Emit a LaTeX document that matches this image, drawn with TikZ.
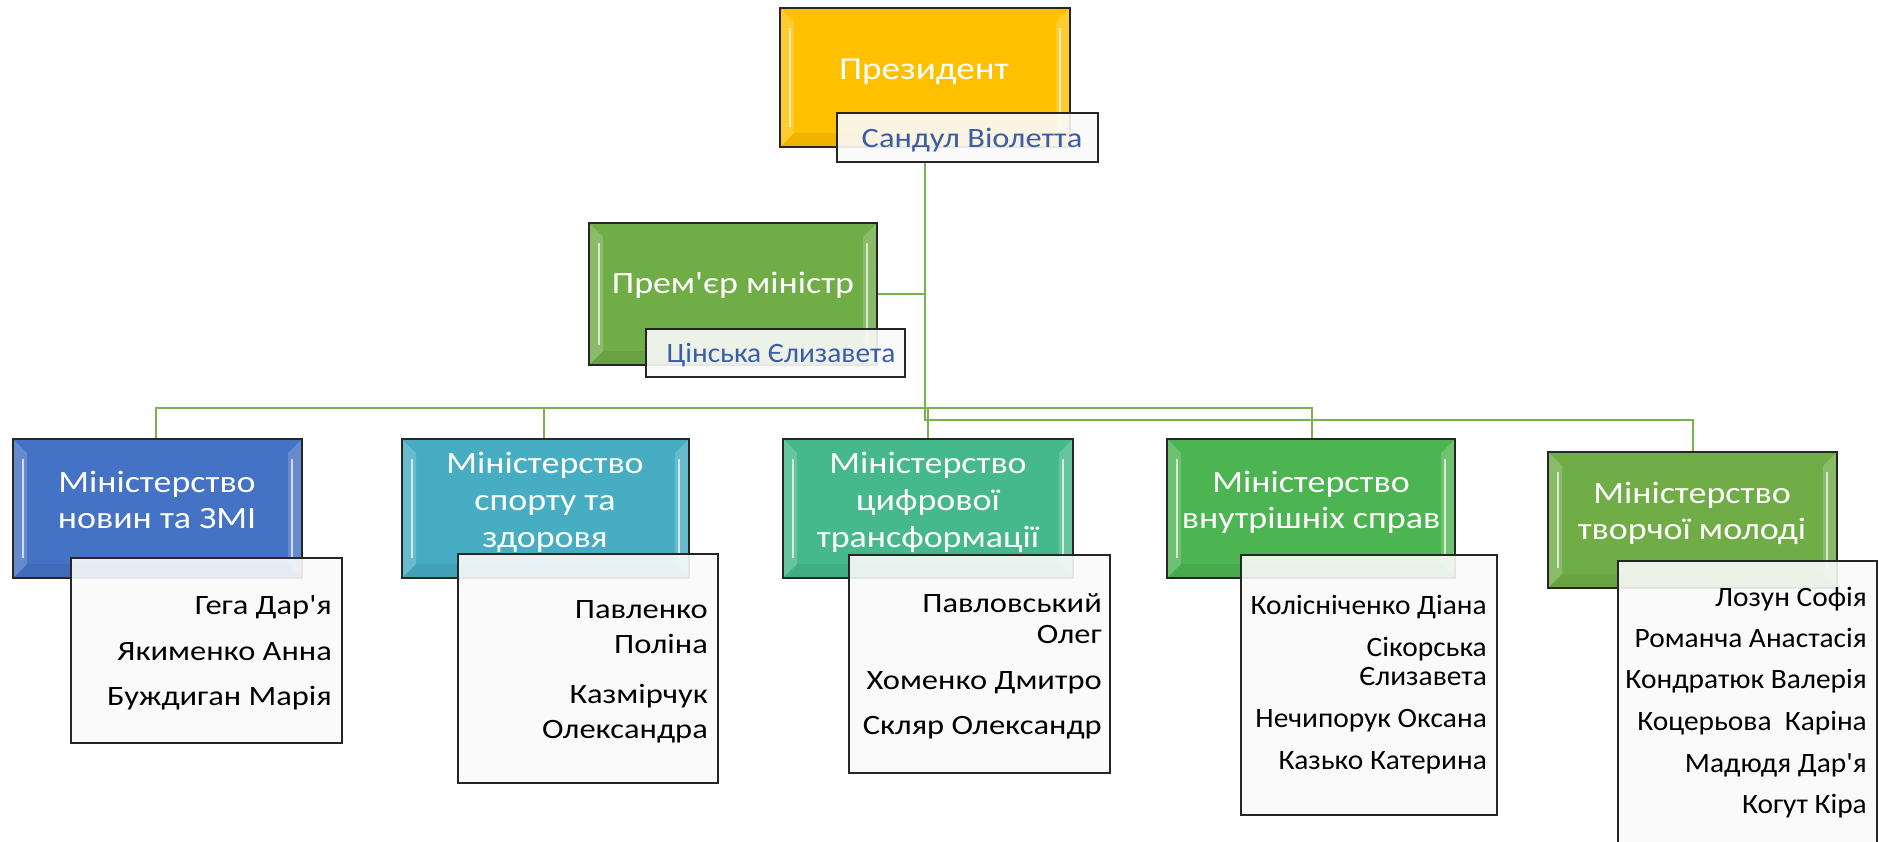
\documentclass[tikz,border=0pt]{standalone}
\usepackage{fontspec}
\setmainfont{Carlito}[Ligatures=TeXOff, FakeStretch=1.16]
\newfontfamily\narrowf{Carlito}[Ligatures=TeXOff, FakeStretch=1.05]
\definecolor{cgold}{HTML}{FFC000}
\definecolor{cgreen}{HTML}{70AD47}
\definecolor{cblue}{HTML}{4472C4}
\definecolor{cteal}{HTML}{46ADC3}
\definecolor{csea}{HTML}{45B98B}
\definecolor{cgreen2}{HTML}{4DB452}
\definecolor{cline}{HTML}{76B24E}
\definecolor{cname}{HTML}{3A5DA6}
\begin{document}
\begin{tikzpicture}[x=1pt,y=-1pt,
  cbox/.style={draw=black!85, line width=1.6pt, rectangle, inner sep=0pt,
    path picture={
      \fill[white,opacity=0.18] (path picture bounding box.north west) -- ++(14pt,-14pt) |- ([shift={(14pt,14pt)}]path picture bounding box.south west) -- (path picture bounding box.south west) -- cycle;
      \fill[white,opacity=0.18] (path picture bounding box.north east) -- ++(-14pt,-14pt) |- ([shift={(-14pt,14pt)}]path picture bounding box.south east) -- (path picture bounding box.south east) -- cycle;
      \fill[black,opacity=0.06] (path picture bounding box.south west) -- ++(14pt,14pt) -- ([shift={(-14pt,14pt)}]path picture bounding box.south east) -- (path picture bounding box.south east) -- cycle;
      \draw[white,opacity=0.7,line width=2.5pt] ([shift={(10pt,-20pt)}]path picture bounding box.north west) -- ([shift={(10pt,20pt)}]path picture bounding box.south west);
      \draw[white,opacity=0.7,line width=2.5pt] ([shift={(-10pt,-20pt)}]path picture bounding box.north east) -- ([shift={(-10pt,20pt)}]path picture bounding box.south east);
    }},
  nbox/.style={draw=black!85, line width=1.6pt, rectangle, inner sep=0pt, fill=black!2, fill opacity=0.9},
  ttl/.style={text=white, inner sep=0pt, font=\fontsize{31}{37}\selectfont},
  bigttl/.style={text=white, inner sep=0pt, font=\fontsize{32}{38}\selectfont},
  head/.style={text=cname, inner sep=0pt, font=\fontsize{28}{33}\selectfont},
  mem/.style={text=black, inner sep=0pt, anchor=base east, font=\fontsize{28}{33}\selectfont},
  memn/.style={text=black, inner sep=0pt, anchor=base east, font=\narrowf\fontsize{28}{33}\selectfont},
  conn/.style={draw=cline, line width=2.4pt}
]
\useasboundingbox (0,0) rectangle (1879,841);

% boxes
\node[cbox, fill=cgold, minimum width=290pt, minimum height=139pt] (pres) at (925,77.5) {};
\node[cbox, fill=cgreen, minimum width=288pt, minimum height=142pt] (pm) at (733,294) {};
\node[cbox, fill=cblue, minimum width=289pt, minimum height=139pt] (b1) at (157.5,508.5) {};
\node[cbox, fill=cteal, minimum width=287pt, minimum height=139pt] (b2) at (545.5,508.5) {};
\node[cbox, fill=csea, minimum width=290pt, minimum height=139pt] (b3) at (928,508.5) {};
\node[cbox, fill=cgreen2, minimum width=288pt, minimum height=139pt] (b4) at (1311,508.5) {};
\node[cbox, fill=cgreen, minimum width=289pt, minimum height=136pt] (b5) at (1692.5,520) {};

% connectors
\coordinate (j1) at (925,420);
\coordinate (j5) at (1693,420);
\coordinate (u1) at (156,408);
\coordinate (u2) at (544,408);
\coordinate (u3) at (928,408);
\coordinate (u4) at (1312,408);
\draw[conn] (pm.east) -- (pm.east -| j1);
\draw[conn] (u1 |- b1.north) -- (u1) -- (u4) -- (u4 |- b4.north);
\draw[conn] (u2) -- (u2 |- b2.north);
\draw[conn] (u3) -- (u3 |- b3.north);

% titles
\node[bigttl, anchor=base] (tpres) at (924,79) {Президент};
\node[ttl, anchor=base] (tpm) at (733,293) {Прем'єр міністр};
\node[ttl, anchor=base] (t1a) at (157,492) {Міністерство};
\node[ttl, anchor=base] (t1b) at (157,528) {новин та ЗМІ};
\node[ttl, anchor=base] (t2a) at (545,473) {Міністерство};
\node[ttl, anchor=base] (t2b) at (545,510) {спорту та};
\node[ttl, anchor=base] (t2c) at (545,547) {здоровя};
\node[ttl, anchor=base] (t3a) at (928,473) {Міністерство};
\node[ttl, anchor=base] (t3b) at (928,510) {цифрової};
\node[ttl, anchor=base] (t3c) at (928,547) {трансформації};
\node[ttl, anchor=base] (t4a) at (1311,492) {Міністерство};
\node[ttl, anchor=base] (t4b) at (1311,528) {внутрішніх справ};
\node[ttl, anchor=base] (t5a) at (1692,503) {Міністерство};
\node[ttl, anchor=base] (t5b) at (1692,539) {творчої молоді};

% name boxes
\node[nbox, minimum width=261pt, minimum height=49pt] (pname) at (967.5,137.5) {};
\node[nbox, minimum width=259pt, minimum height=48pt] (pmname) at (775.5,353) {};
\node[nbox, minimum width=271pt, minimum height=185pt] (n1) at (206.5,650.5) {};
\node[nbox, minimum width=260pt, minimum height=229pt] (n2) at (588,668.5) {};
\node[nbox, minimum width=261pt, minimum height=218pt] (n3) at (979.5,664) {};
\node[nbox, minimum width=256pt, minimum height=260pt] (n4) at (1369,685) {};
\node[nbox, minimum width=259pt, minimum height=320pt] (n5) at (1747.5,721) {};

% trunk
\draw[conn] (pname.south -| j1) -- (j1) -- (j5) -- (j5 |- b5.north);

\node[head, anchor=base] (hpres) at (972,147) {Сандул Віолетта};
\node[head, anchor=base, font=\narrowf\fontsize{28}{33}\selectfont] (hpm) at (781,362) {Цінська Єлизавета};

\node[mem] (m1a) at (332,614) {Гега Дар'я};
\node[mem] (m1b) at (332,660) {Якименко Анна};
\node[mem] (m1c) at (332,705) {Буждиган Марія};

\node[mem] (m2a) at (708,618) {Павленко};
\node[mem] (m2b) at (708,653) {Поліна};
\node[mem] (m2c) at (708,703) {Казмірчук};
\node[mem] (m2d) at (708,738) {Олександра};

\node[mem] (m3a) at (1102,612) {Павловський};
\node[mem] (m3b) at (1102,643) {Олег};
\node[mem] (m3c) at (1102,689) {Хоменко Дмитро};
\node[mem] (m3d) at (1102,734) {Скляр Олександр};

\node[memn] (m4a) at (1487,614) {Колісніченко Діана};
\node[memn] (m4b) at (1487,656) {Сікорська};
\node[memn] (m4c) at (1487,685) {Єлизавета};
\node[memn] (m4d) at (1487,727) {Нечипорук Оксана};
\node[memn] (m4e) at (1487,769) {Казько Катерина};

\node[memn] (m5a) at (1867,606) {Лозун Софія};
\node[memn] (m5b) at (1867,647) {Романча Анастасія};
\node[memn] (m5c) at (1867,688) {Кондратюк Валерія};
\node[memn] (m5d) at (1867,730) {Коцерьова\ \ Каріна};
\node[memn] (m5e) at (1867,772) {Мадюдя Дар'я};
\node[memn] (m5f) at (1867,813) {Когут Кіра};
\end{tikzpicture}
\end{document}
